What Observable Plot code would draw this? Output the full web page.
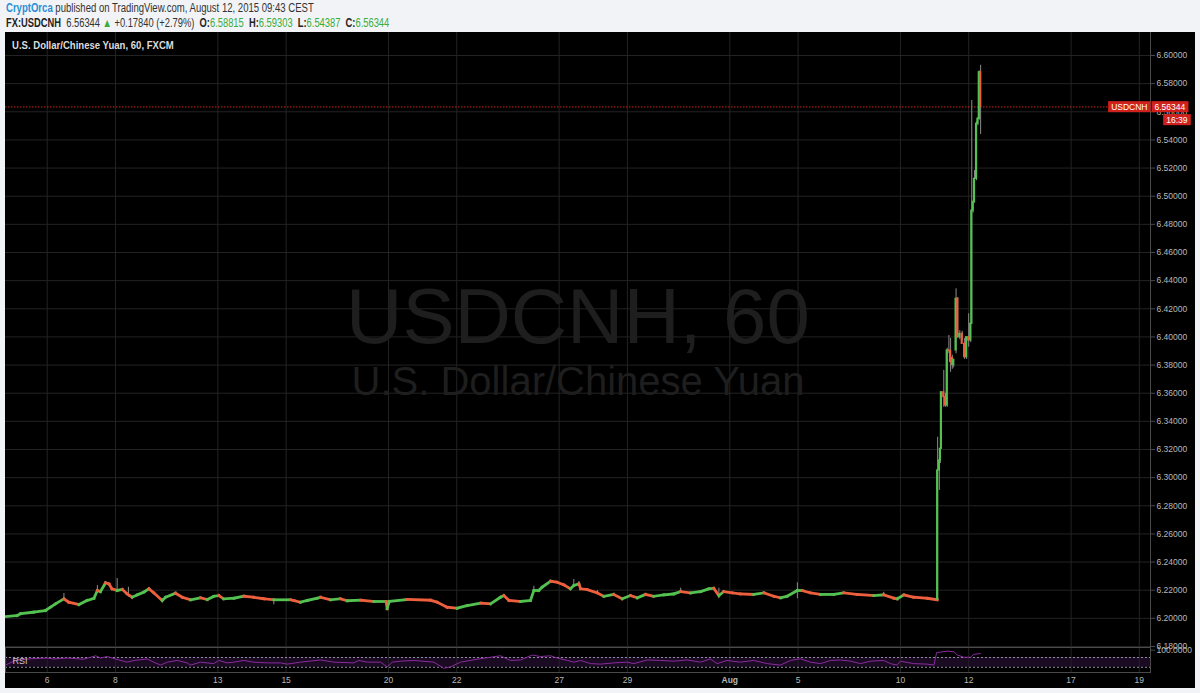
<!DOCTYPE html>
<html><head><meta charset="utf-8">
<script src="https://cdn.jsdelivr.net/npm/d3@7"></script>
<script src="https://cdn.jsdelivr.net/npm/@observablehq/plot@0.6"></script>
<style>
body{margin:0;width:1200px;height:693px;overflow:hidden;background:#f1f3f6;position:relative;font-family:"Liberation Sans",Arial,sans-serif}
.hdr{position:absolute;left:6px;white-space:nowrap;color:#333;font-size:12px;transform-origin:0 0;display:inline-block}
#h1{top:1px}
#h2{top:16px}
#h1 .u{color:#2a8fd4;font-weight:bold}
#h2 b{color:#222}
#h2 .g{color:#3aad3a}
#panel{position:absolute;left:5px;top:32px;width:1190px;height:656px;background:#000;overflow:hidden}
#title{position:absolute;left:7px;top:7px;color:#dcdcdc;font-weight:bold;font-size:11.5px;z-index:2;white-space:nowrap;transform-origin:0 0;display:inline-block}
#price{position:absolute;left:0;top:0}
#rsi{position:absolute;left:0;top:614px}
</style></head>
<body>
<div class="hdr" id="h1"><span class="u">CryptOrca</span> published on TradingView.com, August 12, 2015 09:43 CEST</div>
<div class="hdr" id="h2"><b>FX:USDCNH</b>&nbsp; 6.56344 <span class="g">▲</span> +0.17840 (+2.79%)&nbsp; <b>O:</b><span class="g">6.58815</span>&nbsp; <b>H:</b><span class="g">6.59303</span>&nbsp; <b>L:</b><span class="g">6.54387</span>&nbsp; <b>C:</b><span class="g">6.56344</span></div>
<div id="panel">
  <div id="title">U.S. Dollar/Chinese Yuan, 60, FXCM</div>
  <div id="price"></div>
  <div id="rsi"></div>
</div>
<script>
// ---- data (time = trading-day index, 0 = Mon Jul 6; fractions are hours of the day) ----
const dayTicks = [0, 2, 5, 7, 10, 12, 15, 17, 20, 22, 25, 27, 30, 32];
const dayLabels = ["6", "8", "13", "15", "20", "22", "27", "29", "Aug", "5", "10", "12", "17", "19"];
const priceTicks = [6.18, 6.20, 6.22, 6.24, 6.26, 6.28, 6.30, 6.32, 6.34, 6.36, 6.38, 6.40, 6.42, 6.44, 6.46, 6.48, 6.50, 6.52, 6.54, 6.56, 6.58, 6.60];

// hourly closes before the devaluation
const flatT = [-1.22,-0.88,-0.78,-0.40,-0.05,0.10,0.24,0.49,0.63,0.93,1.17,1.37,1.47,1.56,1.71,1.81,1.90,2.05,2.20,2.34,2.49,2.64,2.83,2.98,3.12,3.37,3.47,3.76,3.96,4.20,4.49,4.69,4.88,5.03,5.17,5.47,5.76,6.05,6.35,6.64,7.13,7.23,7.42,7.62,7.91,8.01,8.30,8.59,8.79,9.18,9.57,9.93,9.96,10.02,10.55,11.23,11.43,11.72,12.01,12.31,12.70,12.99,13.28,13.38,13.53,13.87,14.16,14.26,14.40,14.50,14.75,14.94,15.14,15.33,15.43,15.58,15.63,15.82,16.12,16.31,16.60,16.85,17.09,17.29,17.53,17.77,18.07,18.36,18.56,18.85,19.14,19.39,19.53,19.68,19.82,20.07,20.31,20.70,21.00,21.29,21.49,21.68,21.98,22.12,22.36,22.66,23.05,23.34,23.73,24.22,24.51,24.81,24.91,25.10,25.39,25.78,26.08];
const flatClose = [6.2013,6.2020,6.2033,6.2044,6.2056,6.2080,6.2103,6.2139,6.2115,6.2098,6.2127,6.2143,6.2198,6.2190,6.2253,6.2245,6.2210,6.2198,6.2205,6.2174,6.2150,6.2167,6.2186,6.2210,6.2182,6.2127,6.2150,6.2179,6.2150,6.2132,6.2146,6.2134,6.2157,6.2162,6.2139,6.2143,6.2157,6.2150,6.2139,6.2132,6.2132,6.2127,6.2115,6.2127,6.2143,6.2150,6.2132,6.2139,6.2125,6.2129,6.2120,6.2120,6.2068,6.2120,6.2134,6.2129,6.2115,6.2079,6.2072,6.2091,6.2108,6.2103,6.2150,6.2162,6.2127,6.2120,6.2127,6.2198,6.2198,6.2221,6.2264,6.2257,6.2238,6.2210,6.2233,6.2245,6.2210,6.2205,6.2181,6.2157,6.2170,6.2139,6.2162,6.2146,6.2170,6.2157,6.2167,6.2174,6.2190,6.2181,6.2190,6.2210,6.2214,6.2162,6.2190,6.2181,6.2174,6.2170,6.2181,6.2157,6.2146,6.2157,6.2198,6.2198,6.2181,6.2170,6.2170,6.2181,6.2170,6.2162,6.2167,6.2143,6.2139,6.2167,6.2150,6.2143,6.2132];

// notable wicks in the flat part
const wickT = [0.49, 1.47, 2.05, 2.38, 3.37, 6.64, 14.26, 15.43, 15.58, 16.12, 18.56, 19.68, 21.98, 24.51, 24.91];
const wickHigh = [6.2177, 6.2233, 6.2283, 6.2221, 6.2140, 6.2135, 6.2228, 6.2276, 6.2262, 6.2198, 6.2214, 6.2214, 6.2253, 6.2185, 6.2150];
const wickLow = [6.2130, 6.2180, 6.2190, 6.2150, 6.2110, 6.2096, 6.2195, 6.2220, 6.2230, 6.2175, 6.2180, 6.2139, 6.2139, 6.2160, 6.2128];

// hourly candles from Aug 11 onwards
const spikeT = [26.09,26.14,26.17,26.20,26.27,26.32,26.37,26.42,26.47,26.52,26.56,26.63,26.68,26.74,26.81,26.88,26.94,27.00,27.06,27.09,27.13,27.17,27.23,27.27,27.31,27.35];
const spikeO = [6.2132,6.3051,6.3122,6.3205,6.3607,6.3572,6.3513,6.3904,6.3900,6.3850,6.3800,6.3904,6.4271,6.3998,6.4022,6.3951,6.3856,6.3998,6.3975,6.4093,6.4897,6.4958,6.5124,6.5515,6.5550,6.58815];
const spikeH = [6.3287,6.3120,6.3190,6.3596,6.3762,6.3600,6.3920,6.4010,6.3990,6.3870,6.3840,6.4342,6.4280,6.4045,6.4040,6.3990,6.4000,6.4164,6.4100,6.5680,6.4970,6.5182,6.5530,6.5560,6.5890,6.59303];
const spikeL = [6.2125,6.2909,6.3100,6.3200,6.3500,6.3500,6.3500,6.3880,6.3749,6.3770,6.3780,6.3880,6.3990,6.3980,6.3970,6.3840,6.3840,6.3927,6.3960,6.4090,6.4880,6.4950,6.5110,6.5500,6.5540,6.54387];
const spikeC = [6.3051,6.3122,6.3205,6.3607,6.3572,6.3513,6.3904,6.3900,6.3821,6.3800,6.3838,6.4271,6.3998,6.4022,6.3951,6.3856,6.3998,6.3975,6.4093,6.4897,6.4958,6.5124,6.5515,6.5550,6.58815,6.56344];

// RSI(14)
const rsiT = [-1.22,-0.93,-0.59,0.00,0.19,0.59,1.07,1.42,1.56,1.76,2.00,2.34,2.54,2.93,3.12,3.32,3.52,3.81,4.10,4.20,4.49,4.88,5.03,5.27,5.47,5.76,6.05,6.45,6.84,7.03,7.42,8.01,8.40,8.98,9.13,9.38,9.77,9.96,10.11,10.35,10.74,11.33,11.62,11.82,12.11,12.60,13.28,13.57,13.87,14.21,14.45,14.75,14.94,15.24,15.43,15.63,15.92,16.21,16.60,16.99,17.19,17.58,17.97,18.36,18.75,19.14,19.43,19.63,19.92,20.31,20.70,21.10,21.48,21.78,22.07,22.36,22.66,22.95,23.24,23.54,23.83,24.12,24.51,24.71,24.90,25.00,25.39,25.78,25.98,26.06,26.37,26.57,26.67,26.86,27.05,27.15,27.34];
const rsiV = [39,58,64,68,64,68,63,77,68,74,64,51,58,64,51,39,51,58,48,39,51,45,58,48,51,58,51,48,48,43,51,60,51,48,58,51,51,32,51,55,58,51,26,32,51,63,77,58,60,80,74,77,68,58,51,58,45,43,48,51,45,60,58,55,60,51,64,45,58,51,58,45,39,58,65,51,45,58,60,55,45,55,58,45,39,55,45,43,39,90,96,93,80,71,71,83,86];
const rsiBand = [{lo: 30, hi: 70}];

const lastClose = 6.56344;
const lastTimeLeft = "16:39";
const symbol = "USDCNH";

// ---- styles ----
const X_DOMAIN = [-1.222, 32.327];
const GREEN = "#53c250", RED = "#ee5f3e", GRID = "#232323", AXIS = "#4a4a4a", WICK = "#8c8c8c", LBL = "#b8b8b8";
const FONT = '"Liberation Sans",Arial,sans-serif';

// fit header texts to the widths they take in the reference
function fitWidth(id, w) {
  const el = document.getElementById(id);
  el.style.transform = `scaleX(${w / el.offsetWidth})`;
}
fitWidth("h1", 308); fitWidth("h2", 383); fitWidth("title", 162);

const flat = flatT.slice(1).map((t, i) => ({t0: flatT[i], c0: flatClose[i], t1: t, c1: flatClose[i + 1]}));
const wicks = wickT.map((t, i) => ({t, h: wickHigh[i], l: wickLow[i]}));
const spike = spikeT.map((t, i) => ({t, o: spikeO[i], h: spikeH[i], l: spikeL[i], c: spikeC[i]}));
const rsi = rsiT.map((t, i) => ({t, v: rsiV[i]}));
const fmt5 = d3.format(".5f");

const price = Plot.plot({
  width: 1190, height: 615,
  marginLeft: 0, marginRight: 45, marginTop: 23, marginBottom: 1,
  style: {background: "transparent", color: LBL, fontFamily: FONT, fontSize: "8.5px", overflow: "visible"},
  x: {domain: X_DOMAIN, axis: null},
  y: {domain: [6.18, 6.60], axis: null},
  marks: [
    Plot.ruleX(dayTicks, {stroke: GRID, insetTop: -23}),
    Plot.ruleY(priceTicks, {stroke: GRID}),
    Plot.text(["USDCNH, 60"], {frameAnchor: "middle", dy: -33, fontSize: 78, fill: "#1e1e1e"}),
    Plot.text(["U.S. Dollar/Chinese Yuan"], {frameAnchor: "middle", dy: 31, fontSize: 40, fill: "#1e1e1e"}),
    Plot.ruleY([lastClose], {stroke: "#c8281e", strokeDasharray: "1.5,1.5"}),
    Plot.ruleX(wicks, {x: "t", y1: "l", y2: "h", stroke: WICK}),
    Plot.link(flat, {x1: "t0", y1: "c0", x2: "t1", y2: "c1", stroke: d => d.c1 >= d.c0 ? GREEN : RED, strokeWidth: 2.8, strokeLinecap: "square"}),
    Plot.ruleX(spike, {x: "t", y1: "l", y2: "h", stroke: WICK}),
    Plot.rect(spike, {x1: d => d.t - 0.032, x2: d => d.t + 0.032, y1: "o", y2: "c", fill: d => d.c >= d.o ? GREEN : RED, insetTop: -0.6, insetBottom: -0.6}),
    Plot.ruleX([X_DOMAIN[1]], {stroke: AXIS, insetTop: -23, insetBottom: -1}),
    Plot.axisY(priceTicks, {anchor: "right", label: null, tickFormat: fmt5, tickSize: 4, tickPadding: 2, stroke: AXIS, fill: LBL}),
    Plot.text([symbol], {x: X_DOMAIN[1], y: lastClose, dx: -3, textAnchor: "end", fill: "#fff", fontSize: 8.5}),
    Plot.text([lastClose], {x: X_DOMAIN[1], y: lastClose, dx: 4, textAnchor: "start", text: d => fmt5(d), fill: "#fff", fontSize: 8.5}),
    Plot.text([lastTimeLeft], {x: X_DOMAIN[1], y: lastClose, dx: 37, dy: 13, textAnchor: "end", fill: "#fff", fontSize: 8.5})
  ]
});
document.getElementById("price").append(price);

// red boxes behind the price labels
const boxed = new Set([symbol, fmt5(lastClose), lastTimeLeft]);
price.querySelectorAll("text").forEach(t => {
  if (!boxed.has(t.textContent)) return;
  const b = t.getBBox();
  const r = document.createElementNS("http://www.w3.org/2000/svg", "rect");
  r.setAttribute("x", b.x - 3); r.setAttribute("y", b.y - 0.5);
  r.setAttribute("width", b.width + 6); r.setAttribute("height", b.height + 1);
  r.setAttribute("fill", "#d0211c");
  const tr = t.getAttribute("transform"); if (tr) r.setAttribute("transform", tr);
  t.parentNode.insertBefore(r, t);
});

const rsiPlot = Plot.plot({
  width: 1190, height: 42,
  marginLeft: 0, marginRight: 45, marginTop: 1, marginBottom: 16,
  style: {background: "transparent", color: LBL, fontFamily: FONT, fontSize: "8.5px", overflow: "visible"},
  x: {domain: X_DOMAIN, axis: null},
  y: {domain: [8.8, 110.8], axis: null},
  marks: [
    Plot.rect(rsiBand, {x1: X_DOMAIN[0], x2: X_DOMAIN[1], y1: "lo", y2: "hi", fill: "#1a0a22"}),
    Plot.ruleX(dayTicks, {stroke: GRID}),
    Plot.ruleY([30, 70], {stroke: "#8e8e9e", strokeDasharray: "2,2"}),
    Plot.line(rsi, {x: "t", y: "v", stroke: "#8b2aa0", strokeWidth: 1}),
    Plot.frame({stroke: AXIS}),
    Plot.text(["RSI"], {frameAnchor: "left", dx: 7, dy: 1, fill: "#c8c8c8", textAnchor: "start", fontSize: 9}),
    Plot.axisY([100], {anchor: "right", label: null, tickFormat: d3.format(".4f"), tickSize: 4, tickPadding: 2, stroke: AXIS, fill: LBL}),
    Plot.axisX(dayTicks.filter((d, i) => dayLabels[i] !== "Aug"), {anchor: "bottom", label: null, tickSize: 0, tickPadding: 4, tickFormat: d => dayLabels[dayTicks.indexOf(d)], fill: LBL}),
    Plot.axisX(dayTicks.filter((d, i) => dayLabels[i] === "Aug"), {anchor: "bottom", label: null, tickSize: 0, tickPadding: 4, tickFormat: d => dayLabels[dayTicks.indexOf(d)], fill: LBL, fontWeight: "bold"})
  ]
});
document.getElementById("rsi").append(rsiPlot);
</script>
</body></html>
